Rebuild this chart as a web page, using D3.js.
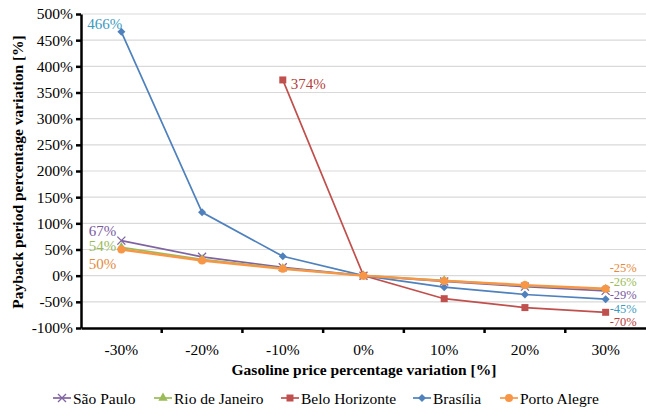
<!DOCTYPE html>
<html><head><meta charset="utf-8">
<script src="https://cdn.jsdelivr.net/npm/d3@7"></script>
<style>body{margin:0;background:#fff}svg{display:block}
svg text{font-family:"Liberation Serif","Tinos","DejaVu Serif","Times New Roman",serif !important}</style>
</head><body>
<svg id="c" width="646" height="412"></svg>
<script>
const categories = ["-30%","-20%","-10%","0%","10%","20%","30%"];
const yTicks = [-100,-50,0,50,100,150,200,250,300,350,400,450,500];
const seriesNames = ["São Paulo","Rio de Janeiro","Belo Horizonte","Brasília","Porto Alegre"];
const saoPaulo = [67,36,16,0,-11,-21,-29];
const rioDeJaneiro = [54,31,14,0,-9,-19,-26];
const beloHorizonte = [null,null,374,0,-44,-61,-70];
const brasilia = [466,121,37,0,-22,-36,-45];
const portoAlegre = [50,29,13,0,-10,-18,-25];

const colors = ["#8064A2","#9BBB59","#C0504D","#4F81BD","#F79646"];
const labelColors = ["#7a5a9e","#9BBB59","#B5403D","#3E9BBF","#E58A3C"];
const markers = ["x","triangle","square","diamond","circle"];
const values = [saoPaulo, rioDeJaneiro, beloHorizonte, brasilia, portoAlegre];

const svg = d3.select("#c");
const L = 81, R = 646, T = 14, B = 328;
const xb = d3.scaleBand().domain(categories).range([L, R]);
const xc = c => xb(c) + xb.bandwidth()/2;
const y = d3.scaleLinear().domain([-100,500]).range([B, T]);

// gridlines
svg.append("g").selectAll("line").data(yTicks.filter(v=>v>-100)).join("line")
  .attr("x1", L).attr("x2", R).attr("y1", d=>y(d)).attr("y2", d=>y(d))
  .attr("stroke", "#d9d9d9").attr("stroke-width", 1.2);

// y axis
const ya = svg.append("g").attr("transform", `translate(${L},0)`)
  .call(d3.axisLeft(y).tickValues(yTicks).tickFormat(d=>d+"%").tickSize(5).tickSizeOuter(0));
ya.select(".domain").attr("stroke","#000").attr("stroke-width",2.5);
ya.selectAll(".tick line").attr("stroke","#000").attr("stroke-width",2.5);
ya.selectAll("text").attr("font-size", 15.5).attr("fill","#000").attr("x",-8);

// x axis
const xa = svg.append("g").attr("transform", `translate(0,${B})`)
  .call(d3.axisBottom(xb).tickSize(0).tickSizeOuter(0));
xa.select(".domain").attr("stroke","#000").attr("stroke-width",2.5);
xa.selectAll("text").attr("font-size", 15.5).attr("fill","#000").attr("dy", "1.55em");
svg.append("g").selectAll("line").data(categories.slice(1)).join("line")
  .attr("x1", d=>xb(d)).attr("x2", d=>xb(d)).attr("y1", B).attr("y2", B+5)
  .attr("stroke","#000").attr("stroke-width",2.5);

// axis titles
svg.append("text").attr("x", 364).attr("y", 375).attr("text-anchor","middle")
  .attr("font-weight","bold").attr("font-size", 15.5)
  .text("Gasoline price percentage variation [%]");
svg.append("text").attr("transform","translate(23,172) rotate(-90)").attr("text-anchor","middle")
  .attr("font-weight","bold").attr("font-size", 15.5)
  .text("Payback period percentage variation [%]");

function drawMarker(g, type, color, x0, y0) {
  if (type === "x") {
    g.append("path").attr("d", `M${x0-4},${y0-4}L${x0+4},${y0+4}M${x0-4},${y0+4}L${x0+4},${y0-4}`)
      .attr("stroke", color).attr("stroke-width", 1.3).attr("fill","none");
  } else if (type === "triangle") {
    g.append("path").attr("d", d3.symbol(d3.symbolTriangle, 38)()).attr("transform",`translate(${x0},${y0})`).attr("fill", color);
  } else if (type === "square") {
    g.append("rect").attr("x", x0-3.5).attr("y", y0-3.5).attr("width",7).attr("height",7).attr("fill", color);
  } else if (type === "diamond") {
    g.append("path").attr("d", `M${x0},${y0-4}L${x0+4},${y0}L${x0},${y0+4}L${x0-4},${y0}Z`).attr("fill", color);
  } else {
    g.append("circle").attr("cx", x0).attr("cy", y0).attr("r", 4).attr("fill", color);
  }
}

const line = d3.line().defined(d=>d.v!==null).x(d=>xc(d.c)).y(d=>y(d.v));
values.forEach((vals, i) => {
  const pts = categories.map((c, j) => ({c, v: vals[j]}));
  const g = svg.append("g");
  g.append("path").attr("d", line(pts)).attr("fill","none").attr("stroke", colors[i])
    .attr("stroke-width", i===4 ? 2.4 : 1.7);
  pts.filter(p=>p.v!==null).forEach(p => drawMarker(g, markers[i], colors[i], xc(p.c), y(p.v)));
});

// data labels
const lab = (txt, color, x0, y0, anchor, fs) => svg.append("text").attr("x", x0).attr("y", y0)
  .attr("text-anchor", anchor).attr("dominant-baseline","central")
  .attr("font-size", fs || 15).attr("fill", color).text(txt);
const first = v => v.find(d=>d!==null);
const firstCat = v => categories[v.findIndex(d=>d!==null)];
const last = v => v[v.length-1];
const lastCat = categories[categories.length-1];
// left-side labels
lab(first(brasilia)+"%", labelColors[3], xc(firstCat(brasilia))+1, y(first(brasilia))-8, "end");
lab(first(beloHorizonte)+"%", labelColors[2], xc(firstCat(beloHorizonte))+8, y(first(beloHorizonte))+4, "start");
lab(first(saoPaulo)+"%", labelColors[0], xc(firstCat(saoPaulo))-5, y(first(saoPaulo))-10, "end");
lab(first(rioDeJaneiro)+"%", labelColors[1], xc(firstCat(rioDeJaneiro))-5, y(first(rioDeJaneiro))-1, "end");
lab(first(portoAlegre)+"%", labelColors[4], xc(firstCat(portoAlegre))-5, y(first(portoAlegre))+14, "end");
// right-side labels
const rx = xc(lastCat) + 4;
lab(last(portoAlegre)+"%", labelColors[4], rx, y(last(portoAlegre))-20.5, "start", 12.5);
lab(last(rioDeJaneiro)+"%", labelColors[1], rx, y(last(rioDeJaneiro))-7.5, "start", 12.5);
lab(last(saoPaulo)+"%", labelColors[0], rx, y(last(saoPaulo))+4.5, "start", 12.5);
lab(last(brasilia)+"%", labelColors[3], rx, y(last(brasilia))+9.5, "start", 12.5);
lab(last(beloHorizonte)+"%", labelColors[2], rx, y(last(beloHorizonte))+10, "start", 12.5);

// legend
const legX = [53, 154, 281, 413, 500];
seriesNames.forEach((n, i) => {
  const g = svg.append("g");
  const ly = 398;
  g.append("line").attr("x1", legX[i]).attr("x2", legX[i]+18).attr("y1", ly).attr("y2", ly)
    .attr("stroke", colors[i]).attr("stroke-width", 1.7);
  drawMarker(g, markers[i], colors[i], legX[i]+9, ly);
  g.append("text").attr("x", legX[i]+20).attr("y", ly).attr("dominant-baseline","central")
    .attr("font-size", 15.5).attr("fill","#000").text(n);
});
</script>
</body></html>
